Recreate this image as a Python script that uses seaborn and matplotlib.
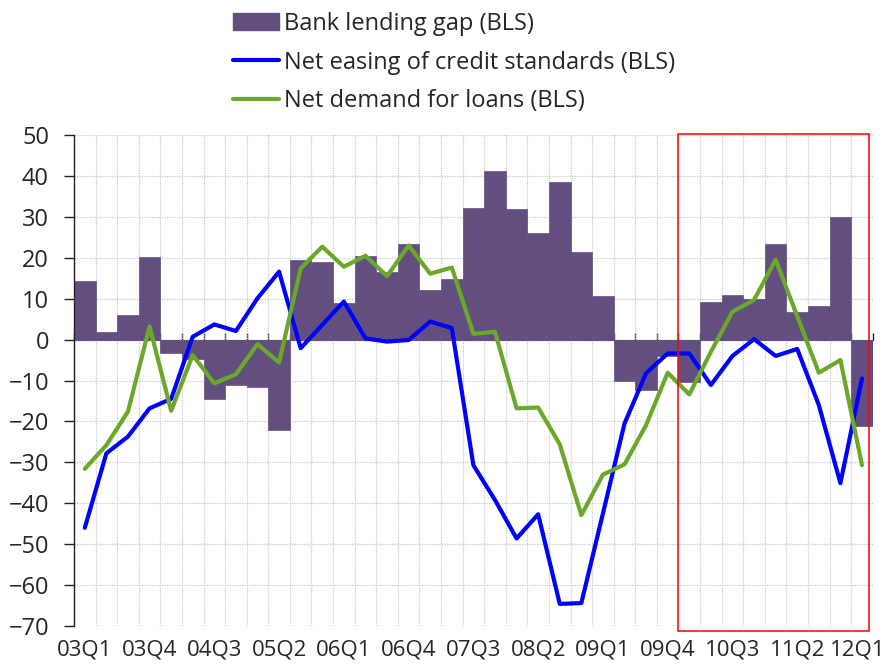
import matplotlib.pyplot as plt
import matplotlib.transforms as mtransforms
import seaborn as sns
import numpy as np
import pandas as pd
from matplotlib.patches import Patch, Rectangle
from matplotlib.lines import Line2D

# Quarterly BLS series, 2003Q1 .. 2012Q1
quarters = [f"{y:02d}Q{q}" for y in range(3, 13) for q in range(1, 5)][:37]

lending_gap = [14.4, 1.9, 6.0, 20.1, -3.4, -4.7, -14.5, -11.1, -11.7, -22.1,
               19.5, 18.9, 8.9, 20.4, 16.4, 23.4, 12.0, 14.8, 32.1, 41.1,
               31.8, 26.1, 38.5, 21.5, 10.7, -10.0, -12.2, -4.0, -10.3, 9.3,
               10.9, 9.8, 23.3, 6.8, 8.1, 30.0, -21.0]

credit_easing = [-46.0, -27.8, -23.7, -16.8, -14.5, 0.7, 3.7, 2.1, 10.1, 16.6,
                 -2.1, 3.6, 9.3, 0.3, -0.5, -0.1, 4.4, 2.8, -30.7, -39.2,
                 -48.6, -42.7, -64.6, -64.4, -42.5, -20.5, -8.2, -3.4, -3.4, -11.1,
                 -4.0, 0.1, -4.0, -2.3, -16.0, -35.1, -9.5]

loan_demand = [-31.6, -25.8, -17.6, 3.2, -17.4, -3.8, -10.7, -8.5, -1.1, -5.6,
               17.4, 22.7, 17.8, 20.5, 15.5, 23.0, 16.1, 17.6, 1.4, 1.9,
               -16.8, -16.6, -25.6, -42.9, -33.0, -30.5, -20.9, -8.1, -13.4, -3.0,
               6.8, 9.7, 19.5, 5.7, -8.1, -5.0, -30.7]

tick_labels = ["03Q1", "03Q4", "04Q3", "05Q2", "06Q1", "06Q4", "07Q3",
               "08Q2", "09Q1", "09Q4", "10Q3", "11Q2", "12Q1"]

PURPLE = "#634F7F"
BLUE = "#0000FF"
GREEN = "#6BA82A"


def main():
    sns.set_style("white")
    plt.rcParams["font.family"] = ["Open Sans", "DejaVu Sans"]
    fs = 17

    df = pd.DataFrame({
        "quarter": quarters,
        "pos": np.arange(len(quarters)),
        "gap": lending_gap,
        "easing": credit_easing,
        "demand": loan_demand,
    })

    fig = plt.figure(figsize=(8.87, 6.68), dpi=100)
    ax = fig.add_axes([74 / 887, 1 - 626 / 668, (872.8 - 74) / 887, (626 - 135) / 668])

    # 1. Bars and lines
    sns.barplot(data=df, x="quarter", y="gap", order=quarters, width=1.0,
                color=PURPLE, saturation=1, edgecolor=PURPLE, linewidth=0.5, ax=ax)
    sns.lineplot(data=df, x="pos", y="easing", color=BLUE, lw=3, ax=ax)
    sns.lineplot(data=df, x="pos", y="demand", color=GREEN, lw=3, ax=ax)

    n = len(quarters)
    ax.set_xlim(-0.5, n - 0.5)
    ax.set_ylim(-70, 50)
    ax.set_xlabel("")
    ax.set_ylabel("")

    # 2. Ticks and grid
    bounds = np.arange(n + 1) - 0.5
    ax.set_xticks(np.arange(0, n, 3))
    ax.set_xticklabels(tick_labels, fontsize=16)
    ax.set_xticks(bounds, minor=True)
    ax.tick_params(axis="x", which="both", length=0, pad=10)
    # keep the last label inside the canvas
    last = ax.get_xticklabels()[-1]
    last.set_transform(last.get_transform() +
                       mtransforms.ScaledTranslation(-0.04, 0, fig.dpi_scale_trans))
    ax.set_yticks(np.arange(-70, 51, 10))
    ax.tick_params(axis="y", labelsize=fs, length=7, width=1, direction="out",
                   color="#222222", pad=11, left=True)
    ax.grid(False)
    ax.grid(True, axis="x", which="minor", color="#c8c8c8", ls=(0, (1, 1)), lw=0.9)
    ax.grid(True, axis="y", which="major", color="#c8c8c8", ls=(0, (1, 1)), lw=0.9)
    ax.set_axisbelow(True)

    for side in ["top", "right", "bottom"]:
        ax.spines[side].set_visible(False)
    ax.spines["left"].set_color("#222222")
    ax.spines["left"].set_linewidth(1)

    # zero line carrying the quarter tick marks
    secax = ax.secondary_xaxis(70 / 120)
    secax.set_xticks(bounds)
    secax.set_xticklabels([])
    secax.tick_params(length=5, width=1, direction="out", color="#222222")
    secax.spines["bottom"].set_color("#231f20")
    secax.spines["bottom"].set_linewidth(1.3)

    # 3. Highlight box over the recent period
    ax.add_patch(Rectangle((27.5, -71.2), 36.34 - 27.5, 50.3 + 71.2, fill=False,
                           edgecolor="red", lw=1.1, clip_on=False, zorder=5))

    # 4. Legend
    handles = [Patch(facecolor=PURPLE, edgecolor=PURPLE),
               Line2D([], [], color=BLUE, lw=3),
               Line2D([], [], color=GREEN, lw=3)]
    labels = ["Bank lending gap (BLS)",
              "Net easing of credit standards (BLS)",
              "Net demand for loans (BLS)"]
    fig.legend(handles, labels, loc="upper left", bbox_to_anchor=(233 / 887, 0.982),
               frameon=False, fontsize=fs, handlelength=1.95, handleheight=0.7,
               handletextpad=0.2, labelspacing=0.62, borderpad=0, borderaxespad=0)

    fig.savefig("out.png", dpi=100)
    plt.close(fig)


if __name__ == "__main__":
    main()
